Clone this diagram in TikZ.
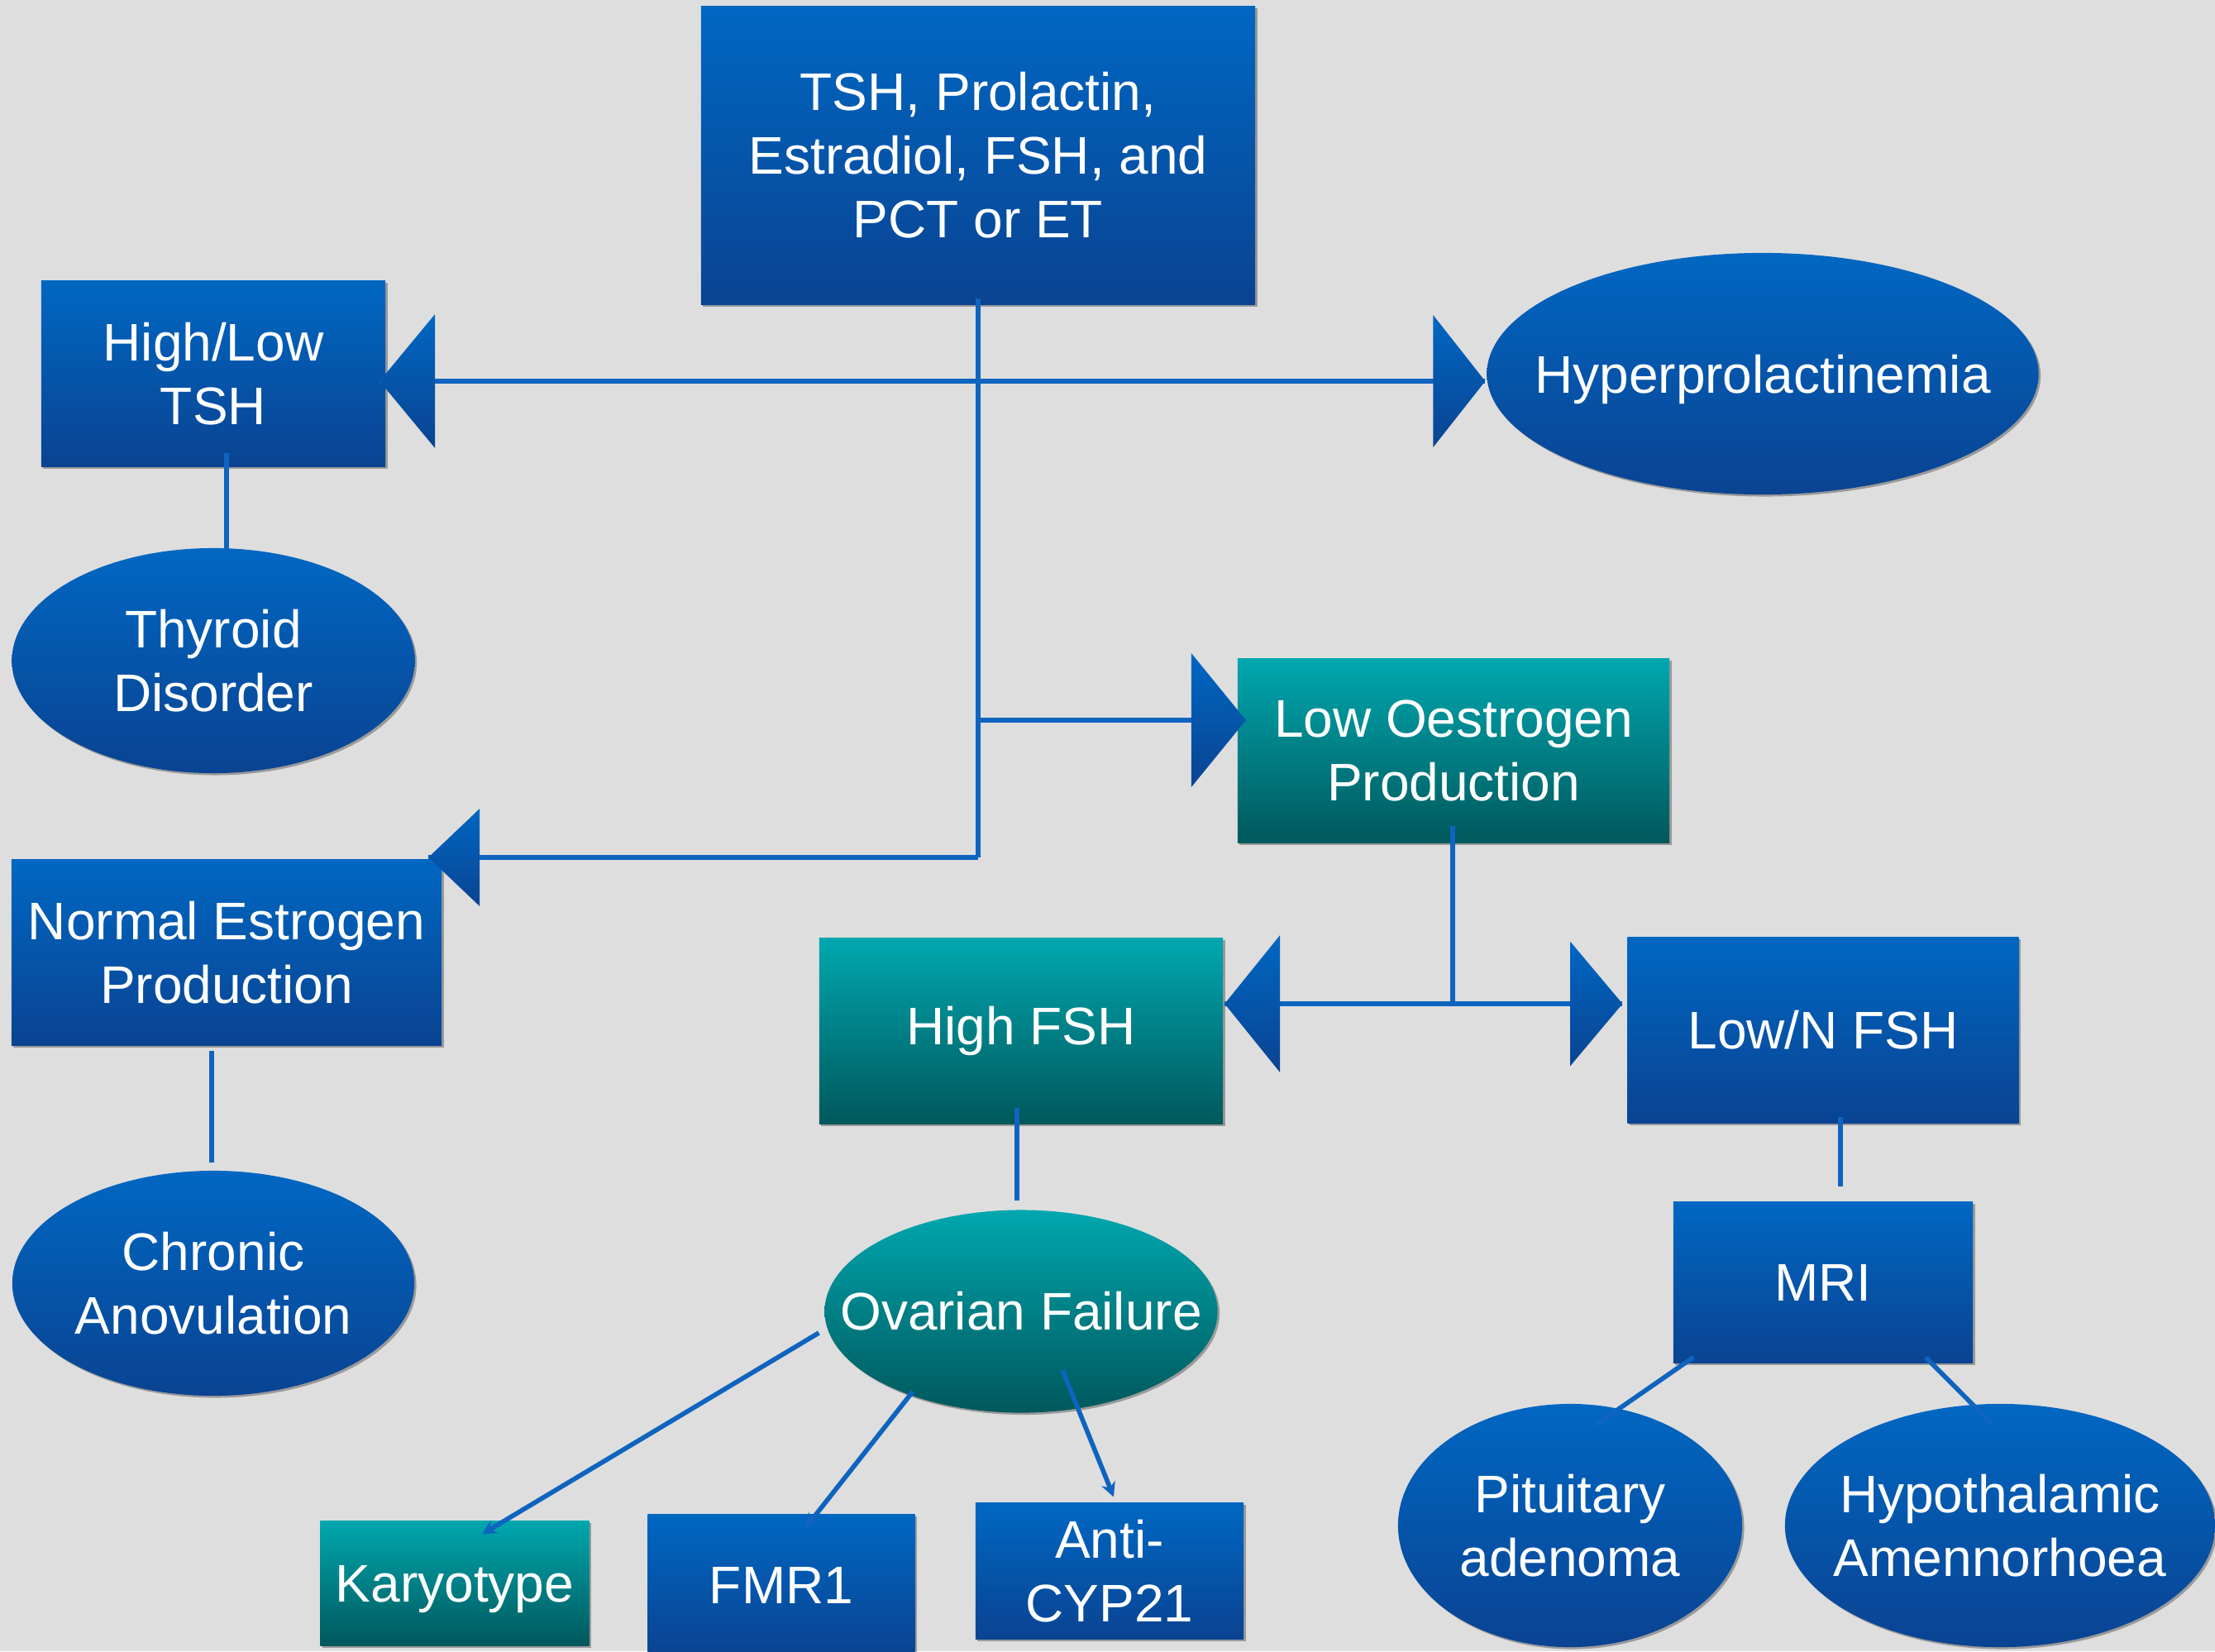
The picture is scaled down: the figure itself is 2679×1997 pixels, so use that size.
\documentclass[tikz,border=0pt]{standalone}
\usepackage{fontspec}
\setmainfont{Liberation Sans}
\usetikzlibrary{shapes.geometric,arrows.meta,calc,shadows}
\definecolor{bg}{RGB}{222,222,222}
\definecolor{btop}{RGB}{0,103,194}
\definecolor{bbot}{RGB}{10,67,146}
\definecolor{ttop}{RGB}{0,167,175}
\definecolor{tbot}{RGB}{0,88,92}
\definecolor{ln}{RGB}{14,100,190}
\tikzset{
  base/.style={font=\fontsize{18.2}{21.9}\selectfont, text=white, align=center,
    inner sep=0pt, outer sep=0pt,
    drop shadow={shadow xshift=0.7pt, shadow yshift=-0.7pt, opacity=0.3, fill=black}},
  bluebox/.style={base, rectangle, top color=btop, bottom color=bbot},
  tealbox/.style={base, rectangle, top color=ttop, bottom color=tbot},
  blueell/.style={base, ellipse, inner xsep=-25pt, top color=btop, bottom color=bbot},
  tealell/.style={base, ellipse, inner xsep=-25pt, top color=ttop, bottom color=tbot},
  conn/.style={draw=ln, line width=1.6pt},
  sconn/.style={conn, -{Stealth[length=5pt,width=5pt]}},
  headshade/.style={top color=btop, bottom color=bbot},
}
\newcommand\ahead[4]{\shade[headshade] (#1) -- ++({-(#2)*(#3)},{-(#4)}) -- ++(0,{2*(#4)}) -- cycle;}
\begin{document}
\begin{tikzpicture}[x=0.01cm,y=-0.01cm]
\useasboundingbox (0,0) rectangle (2679,1997);
\fill[bg] (0,0) rectangle (2679,1997);
\clip (0,0) rectangle (2679,1997);

% nodes
\node[bluebox, minimum width=6.70cm, minimum height=3.61cm] (top) at (1183,188) {TSH, Prolactin,\\Estradiol, FSH, and\\PCT or ET};
\node[bluebox, minimum width=4.16cm, minimum height=2.24cm] (tsh) at (258,452) {High/Low\\TSH};
\node[blueell, minimum width=4.87cm, minimum height=2.72cm] (thyroid) at (258,799) {Thyroid\\Disorder};
\node[blueell, minimum width=6.67cm, minimum height=2.92cm, text depth=0pt] (hyper) at (2132,452) {Hyperprolactinemia};
\node[tealbox, minimum width=5.22cm, minimum height=2.23cm] (lowoe) at (1758,908) {Low Oestrogen\\Production};
\node[bluebox, minimum width=5.20cm, minimum height=2.24cm] (normal) at (274,1152) {Normal Estrogen\\Production};
\node[blueell, minimum width=4.86cm, minimum height=2.72cm] (chronic) at (258,1552) {Chronic\\Anovulation};
\node[tealbox, minimum width=4.88cm, minimum height=2.24cm] (highfsh) at (1235,1247) {High FSH};
\node[bluebox, minimum width=4.73cm, minimum height=2.24cm] (lownfsh) at (2205,1246) {Low/N FSH};
\node[bluebox, minimum width=3.62cm, minimum height=1.95cm] (mri) at (2205,1551) {MRI};
\node[tealell, minimum width=4.75cm, minimum height=2.45cm] (ovarian) at (1235,1586) {Ovarian Failure};
\node[tealbox, minimum width=3.25cm, minimum height=1.51cm, text depth=0pt] (karyo) at (550,1915) {Karyotype};
\node[bluebox, minimum width=3.23cm, minimum height=1.70cm] (fmr) at (945,1917) {FMR1};
\node[bluebox, minimum width=3.24cm, minimum height=1.65cm] (anti) at (1342,1900) {Anti-\\CYP21};
\node[blueell, minimum width=4.16cm, minimum height=2.94cm] (pit) at (1899,1845) {Pituitary\\adenoma};
\node[blueell, minimum width=5.20cm, minimum height=2.94cm] (hypo) at (2419,1845) {Hypothalamic\\Amennorhoea};

% junctions
\coordinate (J1) at (top.south |- 0,461);
\coordinate (J2) at (top.south |- 0,871);
\coordinate (J3) at (top.south |- 0,1037);
\coordinate (J4) at ($(lowoe.south |- 0,1214)+(-1,0)$);
\coordinate (h1) at ($(tsh.east |- J1)+(-7,0)$);
\coordinate (h2) at ($(hyper.west |- J1)+(-2,0)$);
\coordinate (h3) at ($(lowoe.west |- J2)+(10,0)$);
\coordinate (h4) at ($(normal.east |- J3)+(-16,0)$);
\coordinate (h5) at ($(highfsh.east |- J4)+(2,0)$);
\coordinate (h6) at ($(lownfsh.west |- J4)+(-6,0)$);

% connectors
\draw[conn] ($(top.south)+(0,-8)$) -- (J3);
\draw[conn] (h1) -- (h2);
\draw[conn] (J2) -- (h3);
\draw[conn] (J3) -- (h4);
\draw[conn] ($(lowoe.south)+(-1,-21)$) -- (J4);
\draw[conn] (h5) -- (h6);
\draw[conn] ($(tsh.south)+(16,-16)$) -- ($(thyroid.north)+(16,4)$);
\draw[conn] ($(normal.south)+(-18,7)$) -- ($(chronic.north)+(-2,-10)$);
\draw[conn] ($(highfsh.south)+(-5,-19)$) -- ($(ovarian.north)+(-5,-11)$);
\draw[conn] ($(lownfsh.south)+(21,-7)$) -- ($(mri.north)+(21,-18)$);
\draw[conn] ($(mri.south)+(-157,-7)$) -- ($(pit.north)+(33,24)$);
\draw[conn] ($(mri.south)+(124,-7)$) -- ($(hypo.north)+(-10,24)$);
\draw[sconn] ($(ovarian.west)+(-7,26)$) -- ($(karyo.north)+(33,16)$);
\draw[sconn] ($(ovarian.center)+(-131,97)$) -- ($(fmr.north)+(29,16)$);
\draw[sconn] ($(ovarian.center)+(50,71)$) -- ($(anti.north)+(5,-7)$);

% arrowheads
\ahead{h1}{-1}{67}{81}
\ahead{h2}{1}{63}{80}
\ahead{h3}{1}{66}{81}
\ahead{h4}{-1}{62}{59}
\ahead{h5}{-1}{67}{83}
\ahead{h6}{1}{63}{75}
\end{tikzpicture}
\end{document}
